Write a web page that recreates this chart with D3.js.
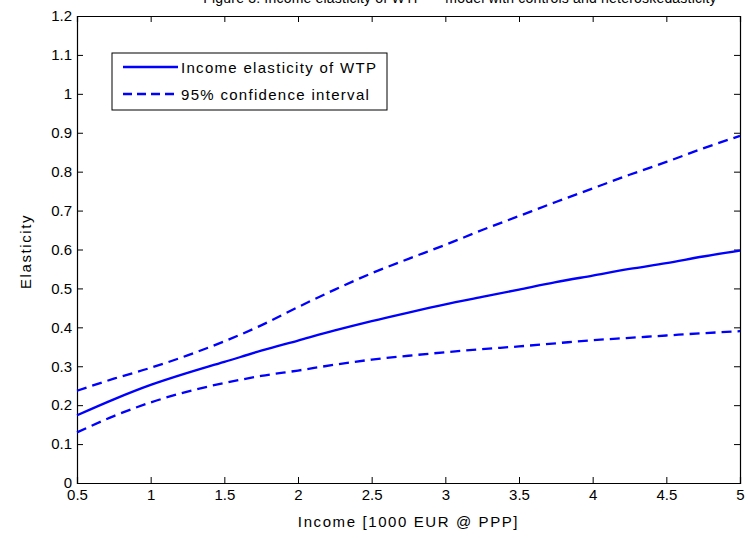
<!DOCTYPE html>
<html>
<head>
<meta charset="utf-8">
<script src="https://cdn.jsdelivr.net/npm/d3@7"></script>
<style>
  body { margin: 0; background: #fff; }
  text { font-family: "Liberation Sans", Arial, sans-serif; fill: #000; }
</style>
</head>
<body>
<script>
// income grid (1000 EUR @ PPP) and curves
const income = [0.5, 0.75, 1, 1.25, 1.5, 1.75, 2, 2.25, 2.5, 2.75, 3, 3.25, 3.5, 3.75, 4, 4.25, 4.5, 4.75, 5];
const elasticity = [0.174, 0.215, 0.252, 0.283, 0.311, 0.34, 0.366, 0.392, 0.416, 0.438, 0.459, 0.478, 0.497, 0.516, 0.533, 0.55, 0.565, 0.582, 0.597];
const upperCI = [0.237, 0.268, 0.296, 0.328, 0.364, 0.405, 0.452, 0.497, 0.539, 0.576, 0.612, 0.65, 0.686, 0.722, 0.757, 0.792, 0.825, 0.86, 0.892];
const lowerCI = [0.13, 0.172, 0.207, 0.235, 0.257, 0.275, 0.289, 0.304, 0.317, 0.327, 0.336, 0.344, 0.351, 0.359, 0.367, 0.373, 0.379, 0.385, 0.39];

const xTicks = [0.5, 1, 1.5, 2, 2.5, 3, 3.5, 4, 4.5, 5];
const yTicks = [0, 0.1, 0.2, 0.3, 0.4, 0.5, 0.6, 0.7, 0.8, 0.9, 1, 1.1, 1.2];
const legendLabels = ["Income elasticity of WTP", "95% confidence interval"];
const titleText = "Figure 3: Income elasticity of WTP \u2014 model with controls and heteroskedasticity";

const width = 749, height = 538;
const margin = { top: 16, right: 9, bottom: 55, left: 77 };
const plotW = width - margin.left - margin.right;
const plotH = height - margin.top - margin.bottom;

const svg = d3.select("body").append("svg")
    .attr("width", width)
    .attr("height", height);

const g = svg.append("g")
    .attr("transform", `translate(${margin.left},${margin.top})`);

const x = d3.scaleLinear().domain([0.5, 5]).range([0, plotW]);
const y = d3.scaleLinear().domain([0, 1.2]).range([plotH, 0]);

// axes, matlab style: ticks pointing inward on all sides
const tickLen = 6;
g.append("g")
    .attr("transform", `translate(0,${plotH})`)
    .call(d3.axisBottom(x).tickValues(xTicks).tickSize(-tickLen).tickPadding(3).tickFormat(d3.format("")))
    .call(a => a.selectAll("text").attr("dy", "0.9em").style("font-size", "15px"));
g.append("g")
    .call(d3.axisTop(x).tickValues(xTicks).tickSize(-tickLen).tickFormat(""));
g.append("g")
    .call(d3.axisLeft(y).tickValues(yTicks).tickSize(-tickLen).tickPadding(5).tickFormat(d3.format("")))
    .call(a => a.selectAll("text").style("font-size", "15px"));
g.append("g")
    .attr("transform", `translate(${plotW},0)`)
    .call(d3.axisRight(y).tickValues(yTicks).tickSize(-tickLen).tickFormat(""));

g.selectAll(".domain").attr("stroke", "#000").attr("stroke-width", 1.2);
g.selectAll(".tick line").attr("stroke", "#000");

// curves
const line = d3.line()
    .x((d, i) => x(income[i]))
    .y(d => y(d))
    .curve(d3.curveMonotoneX);

g.append("path")
    .attr("d", line(elasticity))
    .attr("fill", "none")
    .attr("stroke", "#0000ff")
    .attr("stroke-width", 2.3);

[upperCI, lowerCI].forEach(s => {
    g.append("path")
        .attr("d", line(s))
        .attr("fill", "none")
        .attr("stroke", "#0000ff")
        .attr("stroke-width", 2.3)
        .attr("stroke-dasharray", "10,6");
});

// legend
const leg = svg.append("g").attr("transform", "translate(112,53)");
leg.append("rect")
    .attr("width", 275).attr("height", 57)
    .attr("fill", "#fff").attr("stroke", "#000").attr("stroke-width", 1);
legendLabels.forEach((lab, i) => {
    const ly = 14 + i * 27;
    leg.append("line")
        .attr("x1", 11).attr("x2", 66).attr("y1", ly).attr("y2", ly)
        .attr("stroke", "#0000ff").attr("stroke-width", 2.3)
        .attr("stroke-dasharray", i === 0 ? null : "9,5");
    leg.append("text")
        .attr("x", 69).attr("y", ly + 6)
        .style("font-size", "15px")
        .style("letter-spacing", "1.3px")
        .text(lab);
});

// labels
svg.append("text")
    .attr("x", margin.left + plotW / 2)
    .attr("y", 527)
    .attr("text-anchor", "middle")
    .style("font-size", "15px")
    .style("letter-spacing", "1.6px")
    .text("Income [1000 EUR @ PPP]");

svg.append("text")
    .attr("transform", `translate(31,${margin.top + plotH / 2 + 2}) rotate(-90)`)
    .attr("text-anchor", "middle")
    .style("font-size", "15px")
    .style("letter-spacing", "1.6px")
    .text("Elasticity");

svg.append("text")
    .attr("x", 460)
    .attr("y", 3)
    .attr("text-anchor", "middle")
    .style("font-size", "14px")
    .style("letter-spacing", "0.2px")
    .text(titleText);
</script>
</body>
</html>
